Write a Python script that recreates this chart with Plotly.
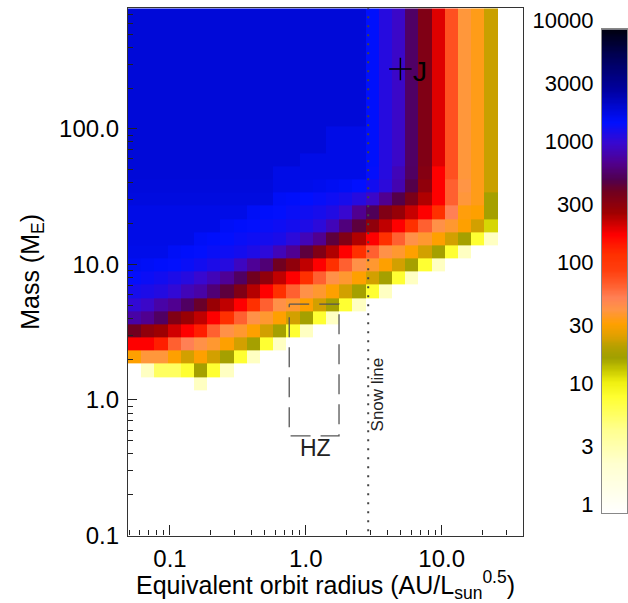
import numpy as np
import plotly.graph_objects as go

# ---------------- data ----------------
# grid of cells (log10 bin edges): orbit radius (AU/Lsun^0.5) and mass (M_E)
x_edges_log = -1.309 + 0.0972 * np.arange(29)
y_edges_log = 0.0728 + 0.0971 * np.arange(30)

N = None
# number of planets per cell, rows listed from top (highest mass) to bottom
counts_top_down = [
    [2200]*18 + [1738, 1300, 1096, 640, 398, 229, 87, 46, 40, 26],  # j=28
    [2200]*18 + [1738, 1300, 1096, 640, 398, 229, 87, 46, 40, 26],
    [2200]*18 + [1738, 1300, 1096, 640, 398, 229, 87, 46, 40, 26],
    [2200]*18 + [1738, 1300, 1096, 640, 398, 229, 87, 46, 40, 26],
    [2200]*18 + [1738, 1300, 1096, 640, 398, 229, 87, 46, 40, 26],
    [2200]*18 + [1738, 1300, 1096, 640, 398, 229, 87, 46, 40, 26],
    [2200]*18 + [1738, 1300, 1096, 640, 398, 229, 87, 46, 40, 26],
    [2200]*18 + [1738, 1300, 1096, 640, 398, 229, 87, 46, 40, 26],
    [2200]*18 + [1738, 1300, 1096, 640, 398, 229, 87, 46, 40, 26],  # j=20
    [2200]*15 + [2000]*3 + [1738, 1300, 1096, 640, 398, 229, 87, 46, 40, 26],  # j=19
    [2200]*15 + [2000]*3 + [1738, 1300, 1096, 640, 398, 229, 87, 46, 40, 26],  # j=18
    [2200]*13 + [2000]*5 + [1738, 1300, 1096, 640, 398, 229, 87, 46, 40, 26],  # j=17
    [2200]*11 + [2000]*7 + [1660, 1300, 1000, 631, 380, 200, 87, 46, 40, 26],  # j=16
    [2138]*11 + [2000, 2000, 1950, 1900, 1850, 1800, 1700,
                 1500, 1250, 955, 560, 347, 200, 76, 48, 40, 26],  # j=15
    [2100]*11 + [1800, 1750, 1700, 1620, 1550, 1450, 1300,
                 1096, 794, 560, 420, 282, 200, 76, 46, 40, 20],  # j=14
    [2000]*9 + [1800, 1740, 1680, 1600, 1520, 1450, 1350, 1150, 794,
                600, 398, 330, 255, 200, 138, 60, 38, 36, 20],  # j=13
    [2000]*7 + [1800, 1740, 1680, 1600, 1550, 1480, 1380, 1250, 1000, 720,
                525, 347, 263, 200, 138, 76, 50, 44, 36, 27, 14],  # j=12
    [2000]*5 + [1800, 1740, 1680, 1600, 1550, 1480, 1420, 1250, 1000, 800,
                525, 398, 282, 200, 138, 76, 50, 44, 36, 27, 20, 9, 2.9],  # j=11
    [1950]*3 + [1800, 1740, 1680, 1600, 1550, 1480, 1380, 1250, 1000, 800,
                525, 398, 282, 200, 138, 76, 50, 44, 36, 27, 20, 9, 2.9, N, N],  # j=10
    [1850, 1800, 1740, 1680, 1600, 1500, 1400, 1300, 1050, 820, 692, 457,
     347, 263, 200, 138, 76, 50, 44, 36, 27, 20, 9, 2.9, N, N, N, N],  # j=9
    [1650, 1580, 1500, 1400, 1300, 1150, 1000, 820, 631, 457, 347, 263,
     200, 138, 76, 50, 44, 36, 27, 20, 9, 2.9, N, N, N, N, N, N],  # j=8
    [1450, 1400, 1330, 1200, 1000, 900, 692, 525, 398, 275, 200, 138,
     76, 50, 44, 36, 27, 20, 9, 2.9] + [N]*8,  # j=7
    [1202, 1096, 900, 794, 631, 480, 320, 263, 200, 138, 76, 50,
     44, 36, 27, 20, 9, 2.9] + [N]*10,  # j=6
    [900, 794, 631, 398, 320, 263, 200, 138, 76, 50, 44, 36,
     27, 20, 9, 2.9] + [N]*12,  # j=5
    [457, 347, 309, 245, 200, 158, 76, 50, 44, 36, 27, 20, 9, 2.9] + [N]*14,  # j=4
    [200, 200, 158, 76, 60, 50, 44, 36, 27, 20, 9, 2.9] + [N]*16,  # j=3
    [36, 46, 46, 36, 27, 36, 27, 20, 9, 2.9] + [N]*18,  # j=2
    [N, 2.9, 6.6, 6.6, 9, 20, 9, 2.9] + [N]*20,  # j=1
    [N, N, N, N, N, 2.9] + [N]*22,  # j=0
]

cbar_tick_values = [1, 3, 10, 30, 100, 300, 1000, 3000, 10000]
cbar_tick_labels = ["1", "3", "10", "30", "100", "300", "1000", "3000", "10000"]

snow_line_au = 2.88
hz_inner, hz_outer = 0.755, 1.756
hz_mass_low, hz_mass_high = 0.543, 5.09
jupiter_a, jupiter_m = 4.97, 276.0

# ---------------- build ----------------
counts = np.array([[np.nan if v is None else v for v in row] for row in counts_top_down[::-1]], dtype=float)
zlog = np.log10(counts)

cscale = [
    [0.00, "#FFFFFF"], [0.10, "#FFFFD0"], [0.17, "#FFFF90"], [0.24, "#FFFF30"],
    [0.27, "#F0F010"], [0.295, "#C8C800"], [0.32, "#A0A000"], [0.345, "#B8A000"],
    [0.365, "#E0A000"], [0.39, "#FFA000"], [0.42, "#FF9545"], [0.445, "#FF8055"],
    [0.47, "#FF6030"], [0.50, "#FF4010"], [0.535, "#FF3000"], [0.575, "#FF0000"],
    [0.62, "#A00000"], [0.665, "#700020"], [0.69, "#500050"], [0.725, "#500090"],
    [0.765, "#3808D0"], [0.808, "#0010FF"], [0.875, "#0000A0"], [0.95, "#000050"],
    [1.00, "#000010"],
]

FONT = "Liberation Sans, Arial, sans-serif"
fig = go.Figure()

fig.add_trace(go.Heatmap(
    x=10 ** x_edges_log, y=10 ** y_edges_log, z=zlog,
    zmin=0, zmax=4, colorscale=cscale, showscale=False,
    hoverongaps=False, xaxis="x", yaxis="y"))

# snow line
fig.add_trace(go.Scatter(
    x=[snow_line_au, snow_line_au], y=[0.05, 2000], mode="lines",
    line=dict(color="#444444", width=2, dash="2px,7px"),
    showlegend=False, hoverinfo="skip", cliponaxis=True))

# habitable zone box
fig.add_trace(go.Scatter(
    x=[hz_inner, hz_outer, hz_outer, hz_inner, hz_inner],
    y=[hz_mass_high, hz_mass_high, hz_mass_low, hz_mass_low, hz_mass_high],
    mode="lines", line=dict(color="#555555", width=1.3, dash="20px,10px"),
    showlegend=False, hoverinfo="skip"))

# Jupiter
fig.add_trace(go.Scatter(
    x=[jupiter_a], y=[jupiter_m], mode="markers",
    marker=dict(symbol="cross-thin", size=16, line=dict(color="black", width=1.5)),
    showlegend=False, hoverinfo="skip"))

# colour bar drawn as its own small heatmap
cb_edges = 10 ** np.linspace(0, 4, 401)
cb_z = np.linspace(0, 4, 400)[:, None]
fig.add_trace(go.Heatmap(
    x=[0, 1], y=cb_edges, z=cb_z, zmin=0, zmax=4, colorscale=cscale,
    showscale=False, xaxis="x2", yaxis="y2", hoverinfo="skip"))

W, H = 628, 603
fig.update_layout(
    width=W, height=H, margin=dict(l=0, r=0, t=0, b=0),
    paper_bgcolor="white", plot_bgcolor="white",
    font=dict(family=FONT, color="black"),
    showlegend=False,
    xaxis=dict(
        type="log", range=[-1.309, 1.599], domain=[128 / W, 523 / W], anchor="y",
        dtick=1, tickformat=".1f", ticks="inside", ticklen=10, tickwidth=1,
        tickcolor="#222", tickfont=dict(size=24), ticklabelstandoff=2,
        minor=dict(ticks="inside", ticklen=5, tickwidth=1, tickcolor="#222", dtick="D1", showgrid=False),
        showgrid=False, zeroline=False, showline=True, mirror=True,
        linecolor="#333", linewidth=1.2, automargin=False,
        title=dict(text="Equivalent orbit radius (AU/L<sub>sun</sub><sup>0.5</sup>)",
                   font=dict(size=25), standoff=4),
    ),
    yaxis=dict(
        type="log", range=[-1.0, 2.889], domain=[1 - 535.5 / H, 1 - 8.3 / H], anchor="x",
        dtick=1, tickformat=".1f", ticks="inside", ticklen=9, tickwidth=1,
        tickcolor="#222", tickfont=dict(size=24), ticklabelstandoff=3,
        minor=dict(ticks="inside", ticklen=5, tickwidth=1, tickcolor="#222", dtick="D1", showgrid=False),
        showgrid=False, zeroline=False, showline=True, mirror=True,
        linecolor="#333", linewidth=1.2, automargin=False,
        title=dict(text="Mass (M<sub>E</sub>)", font=dict(size=25), standoff=12),
    ),
    xaxis2=dict(
        domain=[602 / W, 627 / W], range=[0, 1], anchor="y2",
        showticklabels=False, ticks="", showgrid=False, zeroline=False,
        showline=True, mirror=True, linecolor="#888", linewidth=1, fixedrange=True,
    ),
    yaxis2=dict(
        type="log", range=[0, 4], domain=[1 - 513 / H, 1 - 29.3 / H], anchor="x2",
        side="left", tickmode="array", tickvals=cbar_tick_values, ticktext=cbar_tick_labels,
        ticks="", tickfont=dict(size=22), ticklabelshift=-9, ticklabelstandoff=3,
        showgrid=False, zeroline=False, showline=True, mirror=True,
        linecolor="#888", linewidth=1, fixedrange=True, automargin=False,
    ),
    annotations=[
        dict(x=np.log10(3.35), y=np.log10(1.1), xref="x", yref="y", text="Snow line",
             textangle=-90, showarrow=False, font=dict(size=17, color="#222")),
        dict(x=np.log10(1.17), y=np.log10(0.443), xref="x", yref="y", text="HZ",
             showarrow=False, font=dict(size=23, color="#222")),
        dict(x=np.log10(6.97), y=np.log10(265), xref="x", yref="y", text="J",
             showarrow=False, font=dict(size=28, color="black")),
    ],
)

fig.write_html("out.html")
